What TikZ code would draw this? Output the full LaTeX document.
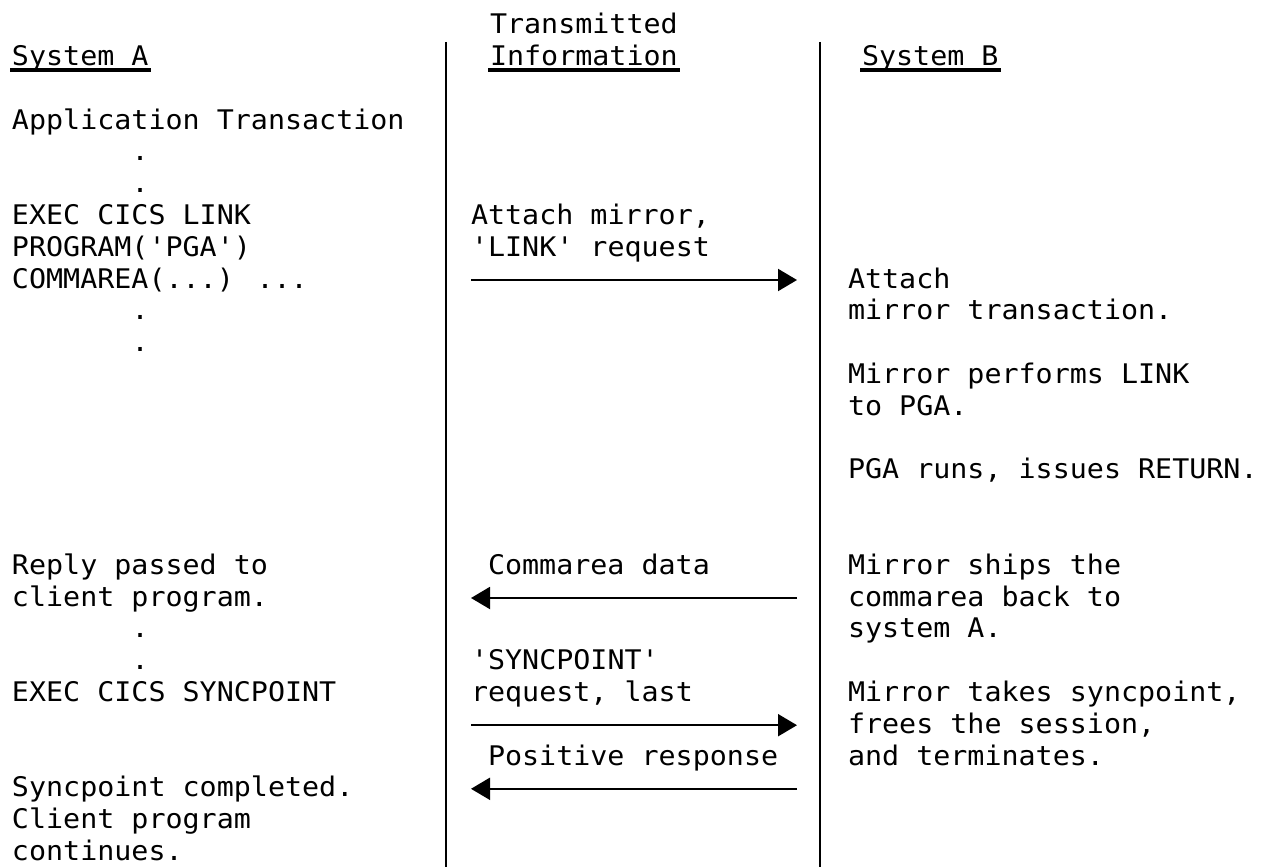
\documentclass[tikz,border=0pt]{standalone}
\usepackage{fontspec}
\newfontfamily\monofam{DejaVu Sans Mono}[FakeStretch=1.05]
\usetikzlibrary{arrows.meta,calc}
\newcommand\rowy[1]{129+31.8*(#1)}
\tikzset{
  txt/.style={anchor=base west,inner sep=0pt,outer sep=0pt,font=\monofam\fontsize{27}{31.8}\selectfont},
  sep/.style={line width=2pt},
  msg/.style={line width=2pt,-{Triangle[length=19pt,width=22pt]}},
  uline/.style={line width=4pt}
}
\begin{document}
\begin{tikzpicture}[x=1pt,y=-1pt]
\useasboundingbox (0,0) rectangle (1263,867);
% column separators
\coordinate (s1t) at (446,42); \coordinate (s1b) at (446,867);
\coordinate (s2t) at (820,42); \coordinate (s2b) at (820,867);
\draw[sep] (s1t) -- (s1b);
\draw[sep] (s2t) -- (s2b);
% headers
\node[txt] (hA) at (12,{\rowy{-2}}) {System A};
\node[txt] (hT) at (490,{\rowy{-3}}) {Transmitted};
\node[txt] (hI) at (490,{\rowy{-2}}) {Information};
\node[txt] (hB) at (862,{\rowy{-2}}) {System B};
\foreach \h in {hA,hI,hB}{
  \draw[uline] ($(\h.base west)+(-2,4.5)$) -- ($(\h.base east)+(2,4.5)$);
}
% System A column
\node[txt] (a0) at (12,{\rowy{0}}) {Application Transaction};
\node[txt] (a1) at (131.5,{\rowy{1}}) {.};
\node[txt] (a2) at (131.5,{\rowy{2}}) {.};
\node[txt] (a3) at (12,{\rowy{3}}) {EXEC CICS LINK};
\node[txt] (a4) at (12,{\rowy{4}}) {PROGRAM('PGA')};
\node[txt] (a5) at (12,{\rowy{5}}) {COMMAREA(...) ...};
\node[txt] (a6) at (131.5,{\rowy{6}}) {.};
\node[txt] (a7) at (131.5,{\rowy{7}}) {.};
\node[txt] (a14) at (12,{\rowy{14}}) {Reply passed to};
\node[txt] (a15) at (12,{\rowy{15}}) {client program.};
\node[txt] (a16) at (131.5,{\rowy{16}}) {.};
\node[txt] (a17) at (131.5,{\rowy{17}}) {.};
\node[txt] (a18) at (12,{\rowy{18}}) {EXEC CICS SYNCPOINT};
\node[txt] (a21) at (12,{\rowy{21}}) {Syncpoint completed.};
\node[txt] (a22) at (12,{\rowy{22}}) {Client program};
\node[txt] (a23) at (12,{\rowy{23}}) {continues.};
% Transmitted information column
\node[txt] (m3) at (471,{\rowy{3}}) {Attach mirror,};
\node[txt] (m4) at (471,{\rowy{4}}) {'LINK' request};
\node[txt] (m14) at (488,{\rowy{14}}) {Commarea data};
\node[txt] (m17) at (471,{\rowy{17}}) {'SYNCPOINT'};
\node[txt] (m18) at (471,{\rowy{18}}) {request, last};
\node[txt] (m20) at (488,{\rowy{20}}) {Positive response};
% System B column
\node[txt] (b5) at (848,{\rowy{5}}) {Attach};
\node[txt] (b6) at (848,{\rowy{6}}) {mirror transaction.};
\node[txt] (b8) at (848,{\rowy{8}}) {Mirror performs LINK};
\node[txt] (b9) at (848,{\rowy{9}}) {to PGA.};
\node[txt] (b11) at (848,{\rowy{11}}) {PGA runs, issues RETURN.};
\node[txt] (b14) at (848,{\rowy{14}}) {Mirror ships the};
\node[txt] (b15) at (848,{\rowy{15}}) {commarea back to};
\node[txt] (b16) at (848,{\rowy{16}}) {system A.};
\node[txt] (b18) at (848,{\rowy{18}}) {Mirror takes syncpoint,};
\node[txt] (b19) at (848,{\rowy{19}}) {frees the session,};
\node[txt] (b20) at (848,{\rowy{20}}) {and terminates.};
% arrows
\coordinate (l1) at (471,{\rowy{5}-8}); \coordinate (r1) at (797,{\rowy{5}-8});
\coordinate (l2) at (471,{\rowy{15}-8}); \coordinate (r2) at (797,{\rowy{15}-8});
\coordinate (l3) at (471,{\rowy{19}-8}); \coordinate (r3) at (797,{\rowy{19}-8});
\coordinate (l4) at (471,{\rowy{21}-8}); \coordinate (r4) at (797,{\rowy{21}-8});
\draw[msg] (l1) -- (r1);
\draw[msg] (r2) -- (l2);
\draw[msg] (l3) -- (r3);
\draw[msg] (r4) -- (l4);
\end{tikzpicture}
\end{document}
